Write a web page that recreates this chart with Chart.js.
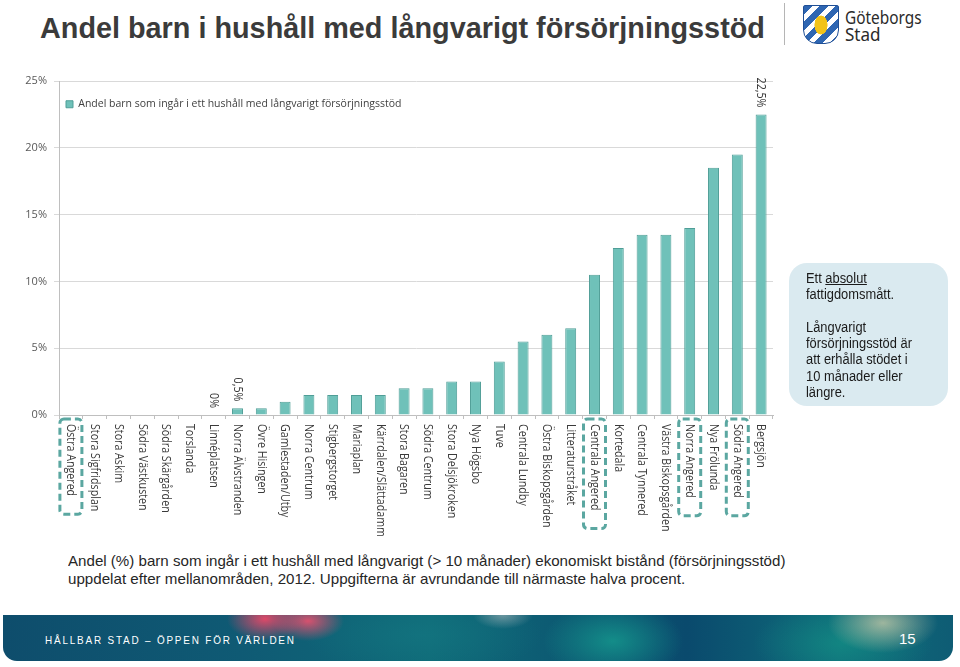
<!DOCTYPE html>
<html>
<head>
<meta charset="utf-8">
<script src="https://cdn.jsdelivr.net/npm/chart.js@4.4.0/dist/chart.umd.min.js"></script>
<style>
  body { margin: 0; width: 960px; height: 667px; position: relative; overflow: hidden; background: #fff;
         font-family: "Liberation Sans", Arial, sans-serif; }
  .fit { display: inline-block; white-space: nowrap; transform-origin: 0 50%; }
  #title { position: absolute; left: 40px; top: 11px; font-size: 29px; font-weight: bold; color: #3b3b3b; line-height: 34px; }
  #divider { position: absolute; left: 784px; top: 3px; width: 1px; height: 42px; background: #b5b5b5; }
  #shield { position: absolute; left: 803px; top: 5px; width: 34px; height: 37px; border: 1px solid #1f4f96;
            border-radius: 2px 2px 14px 14px; overflow: hidden;
            background: radial-gradient(ellipse 9px 13px at 17px 19px, #f2c318 70%, transparent 75%),
                        repeating-linear-gradient(135deg, #2e66b2 0 6px, #ffffff 6px 11px); }
  #brand { position: absolute; left: 845px; top: 9px; font-family: "Noto Sans", sans-serif; font-size: 18px; line-height: 17px; color: #2a2a2a; }
  #chartBox { position: absolute; left: 0; top: 0; width: 800px; height: 545px; }
  #info { position: absolute; left: 789px; top: 263px; width: 159px; height: 143px; border-radius: 18px; background: #daeaf0;
          z-index: 2; box-sizing: border-box; padding: 7px 0 0 17px; font-size: 14px; line-height: 16.3px; color: #1a1a1a; }
  #info .inner { transform: scaleX(0.92); transform-origin: 0 0; width: 160px; }
  #caption { position: absolute; left: 68px; top: 552px; font-size: 15px; line-height: 18px; color: #262626; }
  #footer { position: absolute; left: 3px; top: 615px; width: 950px; height: 46px; border-radius: 0 0 14px 14px;
            background:
              radial-gradient(ellipse 38px 22px at 262px 4px, rgba(232,72,104,0.95), rgba(232,72,104,0) 100%),
              radial-gradient(ellipse 36px 20px at 305px 6px, rgba(236,80,110,0.9), rgba(236,80,110,0) 100%),
              radial-gradient(ellipse 30px 14px at 500px 0px, rgba(200,200,200,0.5), rgba(200,200,200,0) 100%),
              radial-gradient(ellipse 55px 30px at 880px 8px, rgba(205,205,170,0.75), rgba(205,205,170,0) 100%),
              radial-gradient(ellipse 70px 40px at 610px 26px, rgba(22,160,145,0.75), rgba(22,160,145,0) 100%),
              radial-gradient(ellipse 90px 40px at 840px 28px, rgba(20,150,135,0.6), rgba(20,150,135,0) 100%),
              radial-gradient(ellipse 120px 40px at 420px 20px, rgba(20,120,130,0.6), rgba(20,120,130,0) 100%),
              linear-gradient(90deg, #0e4d6c 0%, #0f5a74 25%, #0f6a78 45%, #0a4a6d 72%, #0f6c7a 88%, #0e5c74 100%); }
  #footText { position: absolute; left: 42px; top: 18px; font-size: 11px; line-height: 14px; letter-spacing: 2px; color: #fff; }
  #pageNo { position: absolute; left: 896px; top: 15px; font-size: 15px; line-height: 18px; color: #fff; }
</style>
</head>
<body>
<div id="title"><span class="fit" data-w="725">Andel barn i hushåll med långvarigt försörjningsstöd</span></div>
<div id="divider"></div>
<div id="shield"></div>
<div id="brand"><span class="fit" data-w="77">Göteborgs</span><br><span class="fit" data-w="36">Stad</span></div>

<div id="chartBox"><canvas id="Chart" width="800" height="545"></canvas></div>

<div id="info"><div class="inner">Ett <u>absolut</u><br>fattigdomsmått.<br><br>Långvarigt<br>försörjningsstöd är<br>att erhålla stödet i<br>10 månader eller<br>längre.</div></div>

<div id="caption">
  <span class="fit" data-w="717">Andel (%) barn som ingår i ett hushåll med långvarigt (&gt; 10 månader) ekonomiskt bistånd (försörjningsstöd)</span><br>
  <span class="fit" data-w="617">uppdelat efter mellanområden, 2012. Uppgifterna är avrundande till närmaste halva procent.</span>
</div>

<div id="footer">
  <div id="footText"><span class="fit" data-w="251">HÅLLBAR STAD – ÖPPEN FÖR VÄRLDEN</span></div>
  <div id="pageNo">15</div>
</div>

<script>
// Mellanområden, sorted as in the slide
const areas = ['Östra Angered', 'Stora Sigfridsplan', 'Stora Askim', 'Södra Västkusten', 'Södra Skärgården',
  'Torslanda', 'Linnéplatsen', 'Norra Älvstranden', 'Övre Hisingen', 'Gamlestaden/Utby', 'Norra Centrum',
  'Stigbergstorget', 'Mariaplan', 'Kärrdalen/Slättadamm', 'Stora Bagaren', 'Södra Centrum', 'Stora Delsjökroken',
  'Nya Högsbo', 'Tuve', 'Centrala Lundby', 'Östra Biskopsgården', 'Litteraturstråket', 'Centrala Angered',
  'Kortedala', 'Centrala Tynnered', 'Västra Biskopsgården', 'Norra Angered', 'Nya Frölunda', 'Södra Angered', 'Bergsjön'];

// Andel barn (%) med långvarigt försörjningsstöd
const shares = [0, 0, 0, 0, 0, 0, 0, 0.5, 0.5, 1, 1.5, 1.5, 1.5, 1.5, 2, 2, 2.5, 2.5, 4, 5.5, 6, 6.5,
  10.5, 12.5, 13.5, 13.5, 14, 18.5, 19.5, 22.5];

// bars that carry a value label, and the areas marked with dashed boxes
const labelledAreas = ['Linnéplatsen', 'Norra Älvstranden', 'Bergsjön'];
const markedAreas = ['Östra Angered', 'Centrala Angered', 'Norra Angered', 'Södra Angered'];

const yMax = 25;
const yStep = 5;

// squeeze text horizontally so it looks like the narrow slide font
document.querySelectorAll('.fit').forEach(el => {
  const w = +el.dataset.w;
  el.style.transform = 'scaleX(' + (w / el.offsetWidth) + ')';
});

const labelFont = '13px "Open Sans"';
const squeeze = 0.82;

// draws rotated category names, value labels and the dashed boxes
const slideLabels = {
  id: 'slideLabels',
  afterDraw(chart) {
    const ctx = chart.ctx;
    const x = chart.scales.x;
    const y = chart.scales.y;
    ctx.save();
    ctx.font = labelFont;
    ctx.fillStyle = '#3a3a3a';
    ctx.textBaseline = 'middle';

    areas.forEach((name, i) => {
      const px = x.getPixelForValue(i);
      ctx.save();
      ctx.translate(px, x.top + 9);
      ctx.rotate(Math.PI / 2);
      ctx.scale(squeeze, 1);
      ctx.textAlign = 'left';
      ctx.fillText(name, 0, 0);
      ctx.restore();

      if (markedAreas.includes(name)) {
        const len = ctx.measureText(name).width * squeeze;
        ctx.save();
        ctx.strokeStyle = '#5ba7a1';
        ctx.lineWidth = 3;
        ctx.setLineDash([7, 4]);
        ctx.beginPath();
        ctx.roundRect(px - 11, x.top + 4, 22, len + 23, 4);
        ctx.stroke();
        ctx.restore();
      }

      if (labelledAreas.includes(name)) {
        const txt = String(shares[i]).replace('.', ',') + '%';
        ctx.save();
        ctx.translate(px, y.getPixelForValue(shares[i]) - 7);
        ctx.rotate(Math.PI / 2);
        ctx.scale(squeeze, 1);
        ctx.textAlign = 'right';
        ctx.fillText(txt, 0, 0);
        ctx.restore();
      }
    });
    ctx.restore();
  }
};

const data = {
  labels: areas,
  datasets: [{
    label: 'Andel barn som ingår i ett hushåll med långvarigt försörjningsstöd',
    data: shares,
    backgroundColor: '#6fc1b9',
    borderColor: '#4f9e97',
    borderWidth: 1,
    categoryPercentage: 1,
    barPercentage: 0.46
  }]
};

const config = {
  type: 'bar',
  data,
  options: {
    responsive: false,
    animation: false,
    layout: { padding: { top: 81, right: 27, left: 0, bottom: 0 } },
    plugins: {
      legend: {
        position: 'chartArea',
        align: 'start',
        // empty title only used to push the legend down inside the plot
        title: { display: true, text: '', font: { size: 10 }, padding: { top: 80, bottom: 0 } },
        labels: {
          boxWidth: 7,
          boxHeight: 7,
          color: '#404040',
          font: { family: 'Open Sans', size: 10.5 },
          padding: 7
        }
      },
      tooltip: { enabled: false }
    },
    scales: {
      x: {
        grid: { drawOnChartArea: false, drawTicks: true, tickLength: 4, color: '#bfbfbf', offset: true },
        border: { color: '#bfbfbf' },
        ticks: { display: false },
        afterFit(scale) { scale.height = 130; }
      },
      y: {
        min: 0,
        max: yMax,
        ticks: {
          stepSize: yStep,
          padding: 7,
          color: '#595959',
          font: { family: 'Open Sans', size: 11 },
          callback: v => v + '%'
        },
        grid: { color: '#d9d9d9', tickLength: 5 },
        border: { color: '#bfbfbf' },
        afterFit(scale) { scale.width = 59; }
      }
    }
  },
  plugins: [slideLabels]
};

const areaChart = new Chart(document.getElementById('Chart'), config);
</script>
</body>
</html>
